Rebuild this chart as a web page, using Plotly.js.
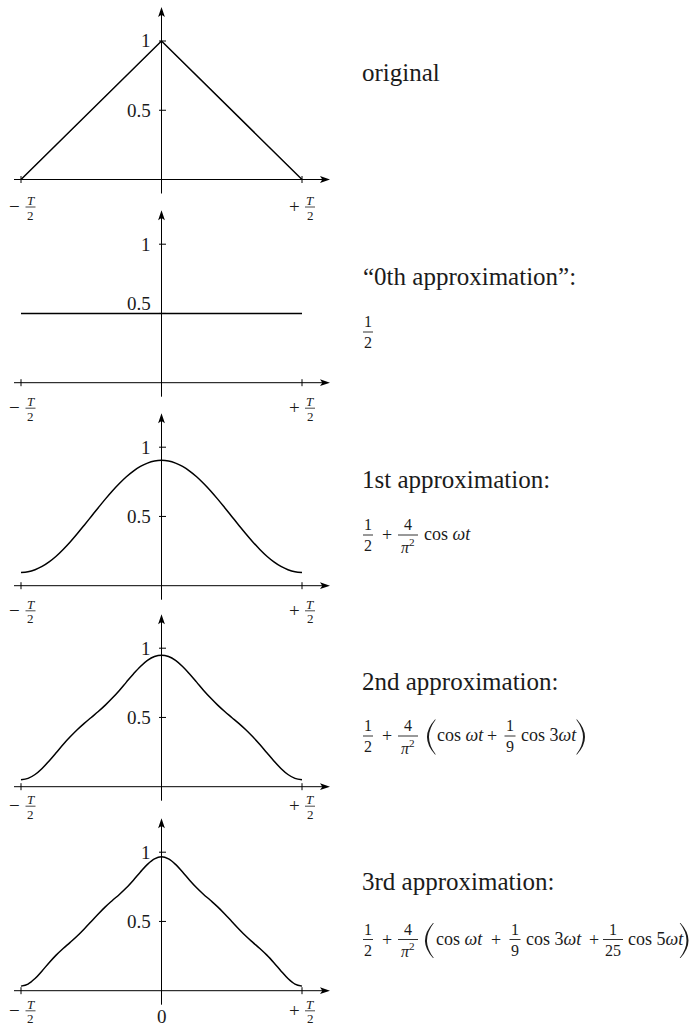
<!DOCTYPE html>
<html>
<head>
<meta charset="utf-8">
<script src="https://cdn.plot.ly/plotly-3.0.1.min.js"></script>
<style>
  html, body { margin: 0; padding: 0; background: #fff; }
  #chart { width: 689px; height: 1028px; }
</style>
</head>
<body>
<div id="chart"></div>
<script>
// Time samples, in units of the period T (one period, centred on 0)
const tSamples = [-0.5, -0.475, -0.45, -0.425, -0.4, -0.375, -0.35, -0.325, -0.3, -0.275,
  -0.25, -0.225, -0.2, -0.175, -0.15, -0.125, -0.1, -0.075, -0.05, -0.025, 0,
  0.025, 0.05, 0.075, 0.1, 0.125, 0.15, 0.175, 0.2, 0.225, 0.25,
  0.275, 0.3, 0.325, 0.35, 0.375, 0.4, 0.425, 0.45, 0.475, 0.5];

// Original triangle wave
const tOriginal = [-0.5, 0, 0.5];
const yOriginal = [0, 1, 0];

// "0th approximation": the mean value
const tZeroth = [-0.5, 0.5];
const yZeroth = [0.5, 0.5];

// 1st approximation
const yFirst = [0.095, 0.100, 0.115, 0.139, 0.172, 0.213, 0.262, 0.316, 0.375, 0.437,
  0.500, 0.563, 0.625, 0.684, 0.738, 0.787, 0.828, 0.861, 0.885, 0.900, 0.905,
  0.900, 0.885, 0.861, 0.828, 0.787, 0.738, 0.684, 0.625, 0.563, 0.500,
  0.437, 0.375, 0.316, 0.262, 0.213, 0.172, 0.139, 0.115, 0.100, 0.095];

// 2nd approximation
const ySecond = [0.050, 0.060, 0.088, 0.132, 0.186, 0.245, 0.305, 0.360, 0.411, 0.457,
  0.500, 0.543, 0.589, 0.640, 0.695, 0.755, 0.814, 0.868, 0.912, 0.940, 0.950,
  0.940, 0.912, 0.868, 0.814, 0.755, 0.695, 0.640, 0.589, 0.543, 0.500,
  0.457, 0.411, 0.360, 0.305, 0.245, 0.186, 0.132, 0.088, 0.060, 0.050];

// 3rd approximation
const yThird = [0.033, 0.048, 0.088, 0.143, 0.202, 0.257, 0.305, 0.349, 0.395, 0.446,
  0.500, 0.554, 0.605, 0.651, 0.695, 0.743, 0.798, 0.857, 0.912, 0.952, 0.967,
  0.952, 0.912, 0.857, 0.798, 0.743, 0.695, 0.651, 0.605, 0.554, 0.500,
  0.446, 0.395, 0.349, 0.305, 0.257, 0.202, 0.143, 0.088, 0.048, 0.033];

// Axis tick values and labels
const yTickVals = [0.5, 1];
const yTickText = ['0.5', '1'];
const xTickVals = [-0.5, 0.5];
const xTickSign = ['\u2212', '+'];

const panels = [
  { x: tOriginal, y: yOriginal, smooth: false },
  { x: tZeroth,   y: yZeroth,   smooth: false },
  { x: tSamples,  y: yFirst,    smooth: true },
  { x: tSamples,  y: ySecond,   smooth: true },
  { x: tSamples,  y: yThird,    smooth: true }
];

// ---- page geometry (pixels) ----
const W = 689, H = 1028;
const axisRow = [179.5, 382.7, 585.7, 786.7, 990.7];   // pixel row of each time axis
const originX = 161.5;     // pixel column of the vertical axis
const pxPerT = 281;        // horizontal pixels per period
const pxPerUnit = 138.5;   // vertical pixels per unit of amplitude
const labelDrop = [21, 19, 18.6, 13, 13.6]; // axis to centre of the "T" in the ±T/2 labels

const FONT = 'Liberation Serif, "Times New Roman", serif';
const INK = '#1b1b1b';

const data = [];
const shapes = [];
const annotations = [];
const layout = {
  width: W, height: H,
  margin: { l: 0, r: 0, t: 0, b: 0 },
  paper_bgcolor: '#fff', plot_bgcolor: 'rgba(0,0,0,0)',
  showlegend: false,
  shapes, annotations
};

panels.forEach((p, k) => {
  const s = k === 0 ? '' : String(k + 1);
  const xr = 'x' + s, yr = 'y' + s;
  const row = axisRow[k];
  const top = Math.max(0, row - 178);
  const bot = Math.min(H, row + 36);
  const rightPx = 345;

  layout['xaxis' + s] = {
    domain: [0, rightPx / W],
    range: [(0 - originX) / pxPerT, (rightPx - originX) / pxPerT],
    visible: false, fixedrange: true, anchor: yr
  };
  layout['yaxis' + s] = {
    domain: [1 - bot / H, 1 - top / H],
    range: [-(bot - row) / pxPerUnit, (row - top) / pxPerUnit],
    visible: false, fixedrange: true, anchor: xr
  };

  data.push({
    type: 'scatter', mode: 'lines', x: p.x, y: p.y, xaxis: xr, yaxis: yr,
    line: { color: '#000', width: 1.5, shape: p.smooth ? 'spline' : 'linear', smoothing: 1 },
    hoverinfo: 'skip'
  });

  const axisLine = { color: '#000', width: 1 };
  // horizontal time axis
  shapes.push({ type: 'line', xref: xr, yref: yr, xsizemode: 'pixel', xanchor: 0,
    x0: 14 - originX, x1: 325 - originX, y0: 0, y1: 0, line: axisLine });
  shapes.push({ type: 'path', xref: xr, yref: yr, xsizemode: 'pixel', ysizemode: 'pixel',
    xanchor: 0, yanchor: 0, path: 'M168.5,0 L158.5,3.4 L160.8,0 L158.5,-3.4 Z',
    fillcolor: '#000', line: { width: 0 } });
  // vertical amplitude axis
  shapes.push({ type: 'line', xref: xr, yref: yr, ysizemode: 'pixel', yanchor: 0,
    x0: 0, x1: 0, y0: -14, y1: 166, line: axisLine });
  shapes.push({ type: 'path', xref: xr, yref: yr, xsizemode: 'pixel', ysizemode: 'pixel',
    xanchor: 0, yanchor: 0, path: 'M0,172.5 L-3.4,162.5 L0,164.8 L3.4,162.5 Z',
    fillcolor: '#000', line: { width: 0 } });

  // ticks on the time axis at ±T/2
  xTickVals.forEach(v => shapes.push({ type: 'line', xref: xr, yref: yr,
    ysizemode: 'pixel', yanchor: 0, x0: v, x1: v, y0: -3.5, y1: 3.5, line: axisLine }));
  // ticks on the amplitude axis
  yTickVals.forEach(v => shapes.push({ type: 'line', xref: xr, yref: yr,
    xsizemode: 'pixel', xanchor: 0, x0: -2.5, x1: 4.5, y0: v, y1: v, line: axisLine }));

  // amplitude tick labels
  yTickVals.forEach((v, i) => annotations.push({
    text: yTickText[i], xref: xr, yref: yr, x: 0, y: v, xanchor: 'right', yanchor: 'middle',
    xshift: -10, yshift: (k === 1 && v === 0.5) ? 9.5 : 0, showarrow: false, borderpad: 0,
    font: { family: FONT, size: 19, color: INK }
  }));

  // time tick labels: −T/2 and +T/2
  const d = labelDrop[k];
  xTickVals.forEach((v, i) => {
    const signDx = i === 0 ? -7 : -8;
    const fracDx = i === 0 ? 9.5 : 8;
    annotations.push({ text: xTickSign[i], xref: xr, yref: yr, x: v, y: 0,
      xanchor: 'center', yanchor: 'middle', xshift: signDx, yshift: -(d + 6),
      showarrow: false, borderpad: 0, font: { family: FONT, size: 19, color: INK } });
    annotations.push({ text: '<i>T</i>', xref: xr, yref: yr, x: v, y: 0,
      xanchor: 'center', yanchor: 'middle', xshift: fracDx, yshift: -d,
      showarrow: false, borderpad: 0, font: { family: FONT, size: 13, color: INK } });
    annotations.push({ text: '2', xref: xr, yref: yr, x: v, y: 0,
      xanchor: 'center', yanchor: 'middle', xshift: fracDx, yshift: -(d + 14.5),
      showarrow: false, borderpad: 0, font: { family: FONT, size: 13, color: INK } });
    shapes.push({ type: 'line', xref: xr, yref: yr, xsizemode: 'pixel', ysizemode: 'pixel',
      xanchor: v, yanchor: 0, x0: fracDx - 5, x1: fracDx + 5, y0: -(d + 6.5), y1: -(d + 6.5),
      line: { color: INK, width: 0.8 } });
  });
  if (k === panels.length - 1) {
    annotations.push({ text: '0', xref: xr, yref: yr, x: 0, y: 0, xanchor: 'center',
      yanchor: 'middle', yshift: -26, showarrow: false, borderpad: 0,
      font: { family: FONT, size: 19, color: INK } });
  }
});

// ---- captions and formulas on the right ----
function label(text, xPx, yPx, size, anchor) {
  annotations.push({ text, xref: 'paper', yref: 'paper', x: xPx / W, y: 1 - yPx / H,
    xanchor: anchor || 'left', yanchor: 'middle', showarrow: false, borderpad: 0,
    font: { family: FONT, size, color: INK } });
}
function bar(xc, yc, w) {
  shapes.push({ type: 'line', xref: 'paper', yref: 'paper', xsizemode: 'pixel', ysizemode: 'pixel',
    xanchor: xc / W, yanchor: 1 - yc / H, x0: -w / 2, x1: w / 2, y0: 0, y1: 0,
    line: { color: INK, width: 0.9 } });
}
function frac(num, den, xc, yc, w) {
  label(num, xc, yc - 10.5, 16, 'center');
  label(den, xc, yc + 10.5, 16, 'center');
  bar(xc, yc, w);
}
function paren(xc, yc, dir) {
  const s = dir;  // -1 for "(", +1 for ")"
  const f = v => (v * -s).toFixed(2);
  const path = 'M' + f(4) + ',17.5 Q' + f(-12) + ',0 ' + f(4) + ',-17.5 L' + f(4.8) + ',-17.5 Q' +
    f(-8.8) + ',0 ' + f(4.8) + ',17.5 Z';
  shapes.push({ type: 'path', xref: 'paper', yref: 'paper', xsizemode: 'pixel', ysizemode: 'pixel',
    xanchor: xc / W, yanchor: 1 - yc / H, path, fillcolor: INK, line: { width: 0 } });
}

const HEAD = 25, MATH = 18;
const cosW = 'cos <i>\u03c9t</i>', cos3W = 'cos 3<i>\u03c9t</i>', cos5W = 'cos 5<i>\u03c9t</i>';
const fourOverPi = ['4', '<i>\u03c0</i><sup>2</sup>'];

label('original', 361, 73, HEAD);

label('\u201c0th approximation\u201d:', 362, 277, HEAD);
frac('1', '2', 368, 332, 10);

label('1st approximation:', 361, 479, HEAD);
frac('1', '2', 368, 535, 10);
label('+', 386.5, 535, MATH, 'center');
frac(fourOverPi[0], fourOverPi[1], 408, 535, 20);
label(cosW, 423, 534, MATH);

label('2nd approximation:', 361, 681, HEAD);
frac('1', '2', 368, 736, 10);
label('+', 386.5, 736, MATH, 'center');
frac(fourOverPi[0], fourOverPi[1], 408, 736, 20);
paren(431, 737, -1);
label(cosW, 436, 735, MATH);
label('+', 492, 736, MATH, 'center');
frac('1', '9', 510, 736, 11);
label(cos3W, 520, 735, MATH);
paren(581, 737, 1);

label('3rd approximation:', 361, 881, HEAD);
frac('1', '2', 368, 939.5, 10);
label('+', 387, 939.5, MATH, 'center');
frac(fourOverPi[0], fourOverPi[1], 408, 939.5, 20);
paren(429, 940.5, -1);
label(cosW, 435, 938.5, MATH);
label('+', 496, 939.5, MATH, 'center');
frac('1', '9', 515, 939.5, 11);
label(cos3W, 525, 938.5, MATH);
label('+', 594, 939.5, MATH, 'center');
frac('1', '25', 613, 939.5, 20);
label(cos5W, 627, 938.5, MATH);
paren(684.5, 940.5, 1);

Plotly.newPlot('chart', data, layout, { staticPlot: true, displayModeBar: false });
</script>
</body>
</html>
